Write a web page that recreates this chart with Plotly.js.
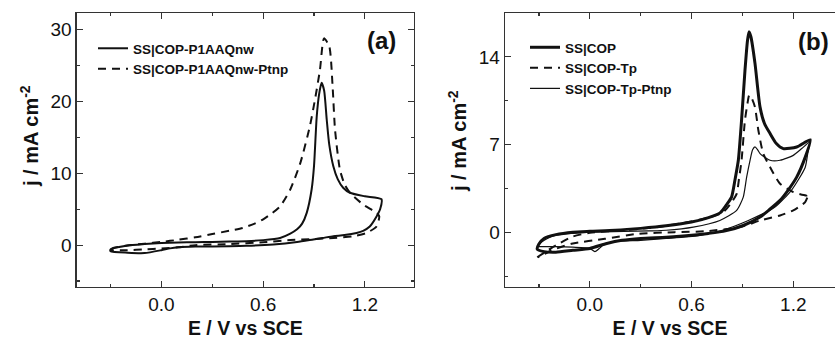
<!DOCTYPE html>
<html>
<head>
<meta charset="utf-8">
<script src="https://cdn.plot.ly/plotly-3.0.1.min.js"></script>
<style>html,body{margin:0;padding:0;background:#fff;}#chart{width:835px;height:339px;}</style>
</head>
<body>
<div id="chart"></div>
<script>
// Panel (a): SS|COP-P1AAQnw (solid)
const aSolidE = [-0.30,-0.20,-0.10,0.00,0.10,0.20,0.30,0.40,0.50,0.60,0.70,0.76,0.80,0.83,0.857,0.886,0.90,0.916,0.93,0.945,0.96,0.975,0.99,1.014,1.04,1.072,1.112,1.20,1.298,
  1.29,1.269,1.229,1.19,1.151,1.08,1.014,0.95,0.896,0.80,0.66,0.50,0.40,0.20,0.10,0.05,0.00,-0.10,-0.20,-0.30,-0.30];
const aSolidJ = [-0.6,-0.05,0.15,0.3,0.38,0.42,0.45,0.5,0.55,0.7,1.0,1.6,2.2,3.0,4.5,7.75,11.0,17.9,21.0,22.6,21.5,17.5,14.0,11.0,9.2,8.0,7.3,6.8,6.4,
  5.0,4.0,2.6,2.0,1.7,1.4,1.25,1.0,0.8,0.45,0.1,-0.1,-0.15,-0.2,-0.3,-0.45,-0.7,-1.1,-1.05,-0.85,-0.6];
// Panel (a): SS|COP-P1AAQnw-Ptnp (dashed)
const aDashE = [-0.30,-0.28,-0.20,-0.10,0.00,0.10,0.20,0.30,0.40,0.48,0.55,0.60,0.65,0.70,0.76,0.82,0.876,0.906,0.935,0.959,0.99,1.01,1.024,1.053,1.08,1.112,1.19,1.269,1.285,
  1.269,1.21,1.131,1.014,0.90,0.76,0.60,0.40,0.20,0.10,0.00,-0.10,-0.20,-0.30];
const aDashJ = [-0.6,-0.37,-0.05,0.2,0.45,0.75,1.1,1.55,2.0,2.4,3.0,3.6,4.4,5.4,7.75,11.5,16.6,20.3,24.4,28.8,27.7,22.0,16.1,10.5,8.5,7.3,5.66,4.5,4.0,
  2.6,1.7,1.25,1.0,0.85,0.7,0.4,0.15,0.0,-0.3,-0.45,-0.6,-0.7,-0.75];
// Panel (b): SS|COP (thick solid)
const bCopE = [-0.31,-0.30,-0.27,-0.20,-0.10,0.00,0.15,0.30,0.45,0.60,0.70,0.77,0.81,0.836,0.856,0.876,0.895,0.915,0.93,0.939,0.95,0.974,1.004,1.03,1.063,1.10,1.141,1.22,1.30,
  1.27,1.22,1.17,1.122,1.06,1.004,0.905,0.80,0.70,0.60,0.45,0.30,0.19,0.10,0.00,-0.10,-0.20,-0.27,-0.31];
const bCopJ = [-1.3,-0.9,-0.45,-0.15,0.05,0.12,0.2,0.35,0.55,0.85,1.2,1.6,2.3,2.84,4.2,5.77,8.96,12.9,15.3,16.0,15.6,13.5,10.0,8.7,7.9,7.1,6.7,6.83,7.4,
  6.0,4.43,3.4,2.58,1.85,1.25,0.58,0.15,-0.05,-0.2,-0.35,-0.45,-0.6,-0.85,-1.25,-1.4,-1.55,-1.5,-1.3];
// Panel (b): SS|COP-Tp (dashed)
const bTpE = [-0.31,-0.27,-0.20,-0.10,0.00,0.20,0.40,0.60,0.70,0.787,0.84,0.866,0.88,0.895,0.915,0.93,0.94,0.955,0.974,0.994,1.023,1.063,1.122,1.20,1.279,1.29,
  1.27,1.20,1.122,1.004,0.885,0.68,0.50,0.285,0.089,-0.108,-0.226,-0.305];
const bTpJ = [-1.95,-1.6,-1.0,-0.3,0.0,0.2,0.45,0.9,1.2,1.64,2.5,3.1,4.3,5.77,8.96,10.3,10.95,10.7,10.0,8.16,6.3,5.23,3.9,3.24,2.97,3.1,
  2.44,1.78,1.38,0.98,0.45,0.12,0.05,-0.08,-0.48,-0.88,-1.41,-1.95];
// Panel (b): SS|COP-Tp-Ptnp (thin solid)
const bPtE = [-0.31,-0.29,-0.25,-0.20,-0.10,0.00,0.20,0.35,0.45,0.61,0.767,0.866,0.905,0.925,0.945,0.96,0.974,0.99,1.004,1.063,1.122,1.20,1.25,1.295,
  1.285,1.27,1.19,1.092,0.935,0.777,0.64,0.45,0.30,0.15,0.08,0.06,0.03,0.00,-0.10,-0.20,-0.31];
const bPtJ = [-1.15,-0.8,-0.45,-0.2,-0.05,0.05,0.1,0.15,0.2,0.45,0.98,1.78,2.84,4.43,5.77,6.6,6.83,6.6,6.3,5.77,5.77,6.16,6.7,7.2,
  6.3,5.2,3.4,2.04,0.98,0.18,-0.22,-0.45,-0.6,-0.7,-0.95,-1.2,-1.5,-1.25,-1.15,-1.1,-1.1];

const names = ["SS|COP-P1AAQnw","SS|COP-P1AAQnw-Ptnp","SS|COP","SS|COP-Tp","SS|COP-Tp-Ptnp"];
const xTicks = [0.0, 0.6, 1.2];
const xTickText = ["0.0","0.6","1.2"];
const aYTicks = [0, 10, 20, 30];
const bYTicks = [0, 7, 14];
const xTitle = '<b>E / V vs SCE</b>';
const yTitle = '<b>j / mA cm<sup>-2</sup></b>';

const ink = '#111';
const traces = [
  {x:aSolidE, y:aSolidJ, name:names[0], xaxis:'x', yaxis:'y', legend:'legend', mode:'lines', line:{color:ink, width:2, shape:'spline', smoothing:0.6}},
  {x:aDashE, y:aDashJ, name:names[1], xaxis:'x', yaxis:'y', legend:'legend', mode:'lines', line:{color:ink, width:2, dash:'8px,6px', shape:'spline', smoothing:0.6}},
  {x:bCopE, y:bCopJ, name:names[2], xaxis:'x2', yaxis:'y2', legend:'legend2', mode:'lines', line:{color:ink, width:3, shape:'spline', smoothing:0.6}},
  {x:bTpE, y:bTpJ, name:names[3], xaxis:'x2', yaxis:'y2', legend:'legend2', mode:'lines', line:{color:ink, width:2, dash:'8px,6px', shape:'spline', smoothing:0.6}},
  {x:bPtE, y:bPtJ, name:names[4], xaxis:'x2', yaxis:'y2', legend:'legend2', mode:'lines', line:{color:ink, width:1.2, shape:'spline', smoothing:0.6}}
];

const fam = 'Liberation Sans, Arial, sans-serif';
const tickFont = {family:fam, size:19, color:ink};
const titleFont = {family:fam, size:19.5, color:ink};
const frame = {showline:true, linecolor:'#333', linewidth:1.3, ticks:'inside', ticklen:6, tickcolor:'#333', tickwidth:1.2,
  showgrid:false, zeroline:false, tickfont:tickFont, fixedrange:true};

const layout = {
  width:835, height:339,
  margin:{l:0, r:0, t:0, b:0},
  paper_bgcolor:'#fff', plot_bgcolor:'#fff',
  showlegend:true,
  xaxis: Object.assign({}, frame, {domain:[0.0919,0.4958], range:[-0.5,1.49], tickvals:xTicks, ticktext:xTickText, mirror:'ticks',
    minor:{tickvals:[-0.3,0.3,0.9], ticks:'inside', ticklen:3, tickcolor:'#333'},
    title:{text:xTitle, font:titleFont, standoff:17}}),
  yaxis: Object.assign({}, frame, {domain:[0.154,0.961], range:[-5.8,32.3], tickvals:aYTicks, mirror:'ticks',
    minor:{tickvals:[-5,5,15,25], ticks:'inside', ticklen:3, tickcolor:'#333'}}),
  xaxis2: Object.assign({}, frame, {domain:[0.6048,1.0], range:[-0.5,1.446], tickvals:xTicks, ticktext:xTickText, mirror:'ticks', anchor:'y2',
    minor:{tickvals:[-0.3,0.3,0.9], ticks:'inside', ticklen:3, tickcolor:'#333'},
    title:{text:xTitle, font:titleFont, standoff:17}}),
  yaxis2: Object.assign({}, frame, {domain:[0.154,0.962], range:[-4.3,17.5], tickvals:bYTicks, mirror:false, anchor:'x2',
    minor:{tickvals:[-3.5,3.5,10.5], ticks:'inside', ticklen:3, tickcolor:'#333'}}),
  legend:{x:93/835, y:1-33/339, xanchor:'left', yanchor:'top', bgcolor:'rgba(0,0,0,0)', borderwidth:0,
    font:{family:fam, size:13.5, color:ink, weight:'bold'}, itemwidth:30, tracegroupgap:0},
  legend2:{x:525/835, y:1-32/339, xanchor:'left', yanchor:'top', bgcolor:'rgba(0,0,0,0)', borderwidth:0,
    font:{family:fam, size:13.5, color:ink, weight:'bold'}, itemwidth:30, tracegroupgap:0},
  annotations:[
    {xref:'paper', yref:'paper', x:29/835, y:1-136/339, text:yTitle, textangle:-90, showarrow:false, xanchor:'center', yanchor:'middle',
      font:{family:fam, size:20, color:ink}},
    {xref:'paper', yref:'paper', x:457/835, y:1-141/339, text:yTitle, textangle:-90, showarrow:false, xanchor:'center', yanchor:'middle',
      font:{family:fam, size:20, color:ink}},
    {xref:'paper', yref:'paper', x:381/835, y:1-40/339, text:'<b>(a)</b>', showarrow:false, xanchor:'center', yanchor:'middle',
      font:{family:fam, size:24, color:ink}},
    {xref:'paper', yref:'paper', x:813/835, y:1-42/339, text:'<b>(b)</b>', showarrow:false, xanchor:'center', yanchor:'middle',
      font:{family:fam, size:24, color:ink}}
  ]
};

Plotly.newPlot('chart', traces, layout, {staticPlot:true, displayModeBar:false});
</script>
</body>
</html>
